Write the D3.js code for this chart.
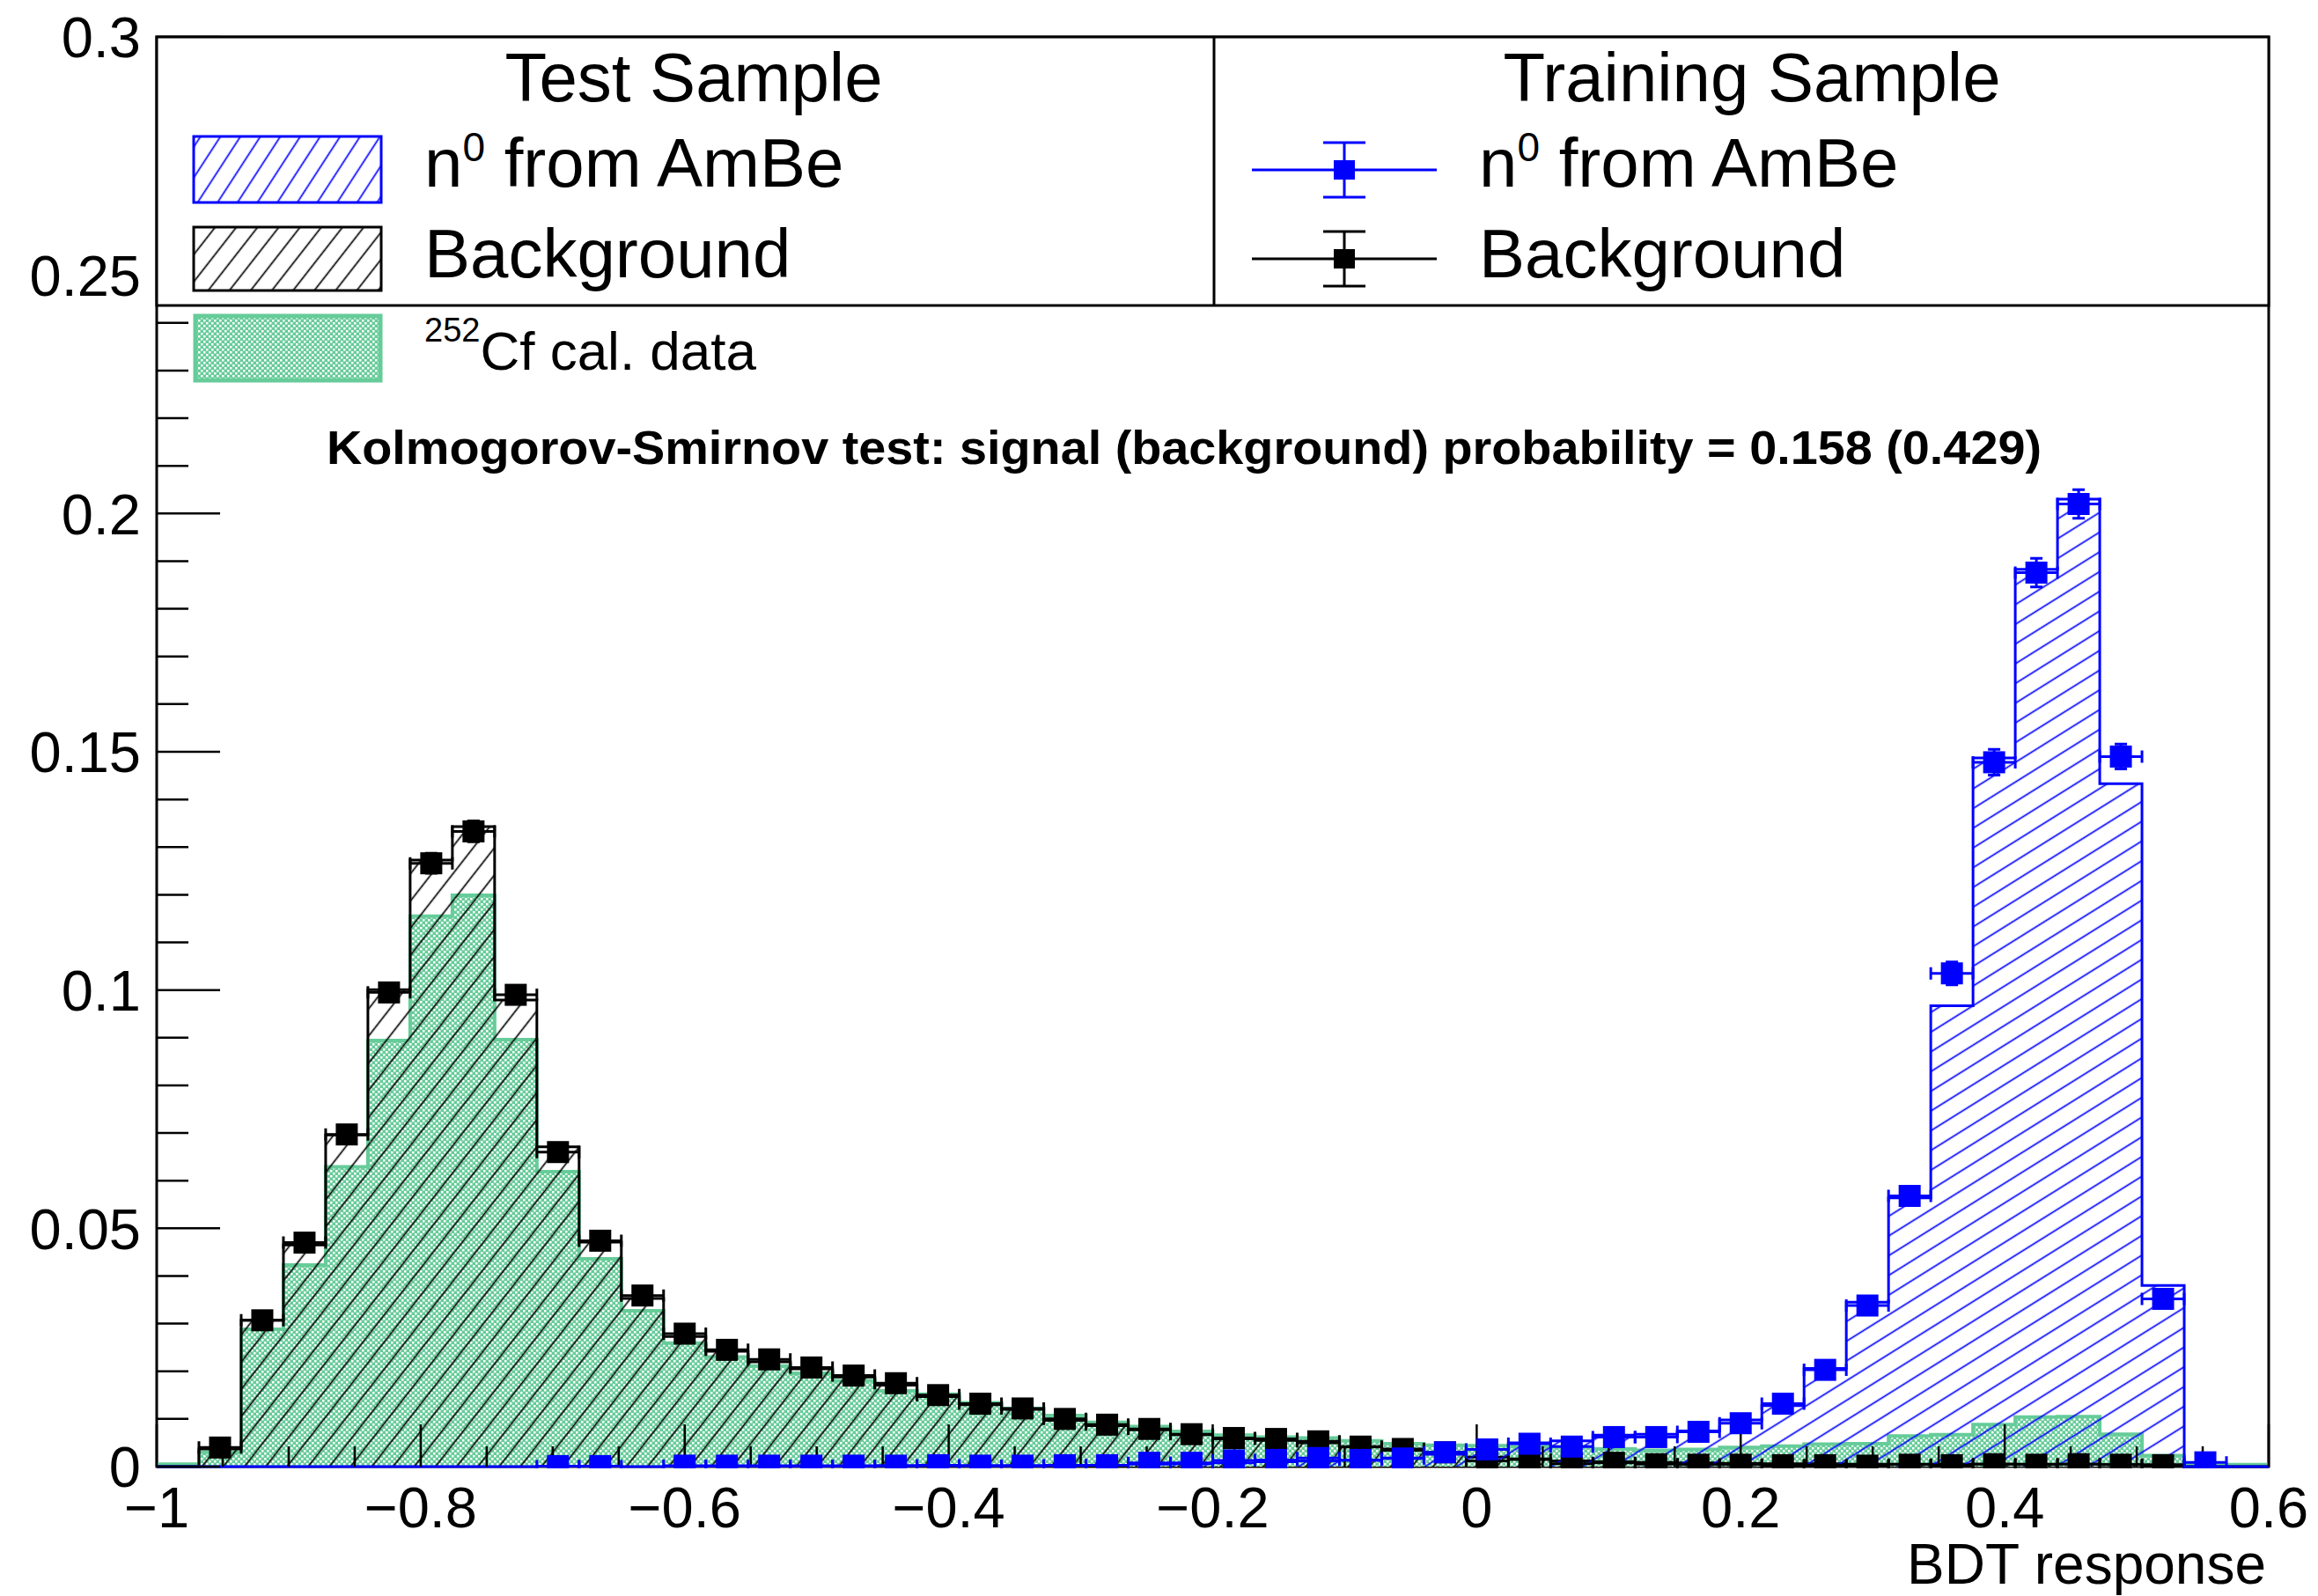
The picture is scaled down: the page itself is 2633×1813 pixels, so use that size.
<!DOCTYPE html>
<html>
<head>
<meta charset="utf-8">
<title>BDT response</title>
<script src="https://cdn.jsdelivr.net/npm/d3@7"></script>
<style>
  html, body { margin: 0; padding: 0; background: #ffffff; }
  svg { display: block; }
  text { font-family: "Liberation Sans", Arial, Helvetica, sans-serif; }
</style>
</head>
<body>
<svg id="chart" width="2633" height="1813"></svg>
<script>
// ---- binning of the BDT response axis ----
const xDomain = [-1, 0.6];
const yDomain = [0, 0.3];
const nBins = 50;

// ---- test sample histograms (normalised) ----
const sigTest = [
  0, 0, 0, 0, 0, 0, 0, 0, 0, 0.0001,
  0.0001, 0, 0.0001, 0.0001, 0.0001, 0.0001, 0.0001, 0.0002, 0.0002, 0.0002,
  0.0002, 0.0002, 0.0003, 0.0005, 0.0006, 0.0008, 0.0010, 0.0012, 0.0013, 0.0018,
  0.0026, 0.0036, 0.0050, 0.0054, 0.0066, 0.0068, 0.0075, 0.0098, 0.0128, 0.0206,
  0.0345, 0.0564, 0.0967, 0.1487, 0.1883, 0.2030, 0.1433, 0.0380, 0, 0
];
const bkgTest = [
  0, 0.0037, 0.0307, 0.0465, 0.0696, 0.1001, 0.1273, 0.1343, 0.0979, 0.0671,
  0.0471, 0.0353, 0.0273, 0.0242, 0.0220, 0.0205, 0.0188, 0.0171, 0.0147, 0.0130,
  0.0120, 0.0097, 0.0086, 0.0077, 0.0067, 0.0058, 0.0055, 0.0050, 0.0041, 0.0034,
  0.0027, 0.0020, 0.0016, 0.0012, 0.0010, 0.0009, 0.0008, 0.0007, 0.0006, 0.0006,
  0.0005, 0.0005, 0.0005, 0.0005, 0.0005, 0.0005, 0.0004, 0.0004, 0, 0
];
// ---- 252Cf calibration data ----
const cfData = [
  0.0005, 0.0030, 0.0288, 0.0423, 0.0629, 0.0894, 0.1155, 0.1199, 0.0896, 0.0619,
  0.0436, 0.0327, 0.0259, 0.0230, 0.0211, 0.0196, 0.0180, 0.0159, 0.0152, 0.0134,
  0.0122, 0.0107, 0.0093, 0.0084, 0.0074, 0.0066, 0.0062, 0.0060, 0.0054, 0.0048,
  0.0045, 0.0044, 0.0042, 0.0041, 0.0037, 0.0034, 0.0036, 0.0040, 0.0043, 0.0047,
  0.0048, 0.0064, 0.0067, 0.0088, 0.0104, 0.0105, 0.0068, 0.0023, 0.0005, 0.0004
];
// ---- training sample points (null = empty bin, not drawn) ----
const sigTrain = [
  null, null, null, null, null, null, null, null, null, 0.0001,
  0.0001, null, 0.0002, 0.0002, 0.0002, 0.0002, 0.0002, 0.0002, 0.0003, 0.0002,
  0.0002, 0.0003, 0.0003, 0.0008, 0.0008, 0.0013, 0.0014, 0.0018, 0.0014, 0.0017,
  0.0030, 0.0036, 0.0048, 0.0042, 0.0062, 0.0062, 0.0073, 0.0091, 0.0132, 0.0203,
  0.0338, 0.0568, 0.1035, 0.1478, 0.1876, 0.2020, 0.1490, 0.0352, 0.0009, null
];
const sigTrainErr = [
  0, 0, 0, 0, 0, 0, 0, 0, 0, 0.0001,
  0.0001, 0, 0.0001, 0.0001, 0.0001, 0.0001, 0.0001, 0.0001, 0.0002, 0.0001,
  0.0001, 0.0002, 0.0002, 0.0003, 0.0003, 0.0004, 0.0004, 0.0004, 0.0004, 0.0004,
  0.0005, 0.0006, 0.0007, 0.0006, 0.0008, 0.0008, 0.0008, 0.0009, 0.0011, 0.0014,
  0.0017, 0.0020, 0.0024, 0.0027, 0.0030, 0.0030, 0.0026, 0.0013, 0.0003, 0
];
const bkgTrain = [
  null, 0.0040, 0.0307, 0.0470, 0.0697, 0.0995, 0.1266, 0.1333, 0.0990, 0.0660,
  0.0474, 0.0359, 0.0279, 0.0245, 0.0225, 0.0208, 0.0191, 0.0175, 0.0150, 0.0132,
  0.0122, 0.0100, 0.0088, 0.0079, 0.0068, 0.0060, 0.0058, 0.0053, 0.0042, 0.0037,
  0.0030, 0.0012, 0.0015, 0.0006, 0.0008, 0.0005, 0.0004, 0.0004, 0.0003, 0.0003,
  0.0002, 0.0004, 0.0003, 0.0005, 0.0004, 0.0005, 0.0004, 0.0003, null, null
];
const bkgTrainErr = [
  0, 0.0004, 0.0011, 0.0013, 0.0016, 0.0019, 0.0021, 0.0022, 0.0019, 0.0015,
  0.0013, 0.0011, 0.0010, 0.0009, 0.0009, 0.0008, 0.0008, 0.0008, 0.0007, 0.0007,
  0.0006, 0.0006, 0.0005, 0.0005, 0.0005, 0.0005, 0.0004, 0.0004, 0.0004, 0.0003,
  0.0003, 0.0002, 0.0002, 0.0002, 0.0002, 0.0001, 0.0001, 0.0001, 0.0001, 0.0001,
  0.0001, 0.0001, 0.0001, 0.0001, 0.0001, 0.0001, 0.0001, 0.0001, 0, 0
];

// ---- axis ticks and labels ----
const xMajorTicks = [-1, -0.8, -0.6, -0.4, -0.2, 0, 0.2, 0.4, 0.6];
const xTickLabels = ["\u22121", "\u22120.8", "\u22120.6", "\u22120.4", "\u22120.2", "0", "0.2", "0.4", "0.6"];
const yMajorTicks = [0, 0.05, 0.1, 0.15, 0.2, 0.25, 0.3];
const yTickLabels = ["0", "0.05", "0.1", "0.15", "0.2", "0.25", "0.3"];
const xMinorStep = 0.05;
const yMinorStep = 0.01;

const xTitle = "BDT response";
const ksText = "Kolmogorov-Smirnov test: signal (background) probability = 0.158 (0.429)";

// ---- colours ----
const BLUE = "#0000ff";
const BLACK = "#000000";
const GREEN = "#66cc99";

// ---- layout ----
const frame = { left: 178, right: 2577, top: 42, bottom: 1666 };
const svg = d3.select("#chart");

const x = d3.scaleLinear().domain(xDomain).range([frame.left, frame.right]);
const y = d3.scaleLinear().domain(yDomain).range([frame.bottom, frame.top]);

const binW = (xDomain[1] - xDomain[0]) / nBins;
const edges = d3.range(nBins + 1).map(i => xDomain[0] + i * binW);
const centers = d3.range(nBins).map(i => xDomain[0] + (i + 0.5) * binW);

// ---- fill patterns ----
const defs = svg.append("defs");
function hatch(id, color, angleDeg, spacing, width) {
  const p = defs.append("pattern")
    .attr("id", id)
    .attr("patternUnits", "userSpaceOnUse")
    .attr("width", spacing).attr("height", spacing)
    .attr("patternTransform", `rotate(${90 - angleDeg})`);
  p.append("line")
    .attr("x1", spacing / 2).attr("y1", -1)
    .attr("x2", spacing / 2).attr("y2", spacing + 1)
    .attr("stroke", color).attr("stroke-width", width);
}
hatch("hatchBlue", BLUE, 32, 19, 1.7);
hatch("hatchBlueLeg", BLUE, 57, 19, 1.7);
hatch("hatchBlack", BLACK, 52, 19, 1.7);

// fine checkered fill for the calibration data
const dots = defs.append("pattern")
  .attr("id", "cfDots")
  .attr("patternUnits", "userSpaceOnUse")
  .attr("width", 6).attr("height", 6);
dots.append("rect").attr("width", 6).attr("height", 6).attr("fill", GREEN);
dots.append("rect").attr("x", 0).attr("y", 0).attr("width", 2.5).attr("height", 2.5).attr("fill", "#ffffff");
dots.append("rect").attr("x", 3).attr("y", 3).attr("width", 2.5).attr("height", 2.5).attr("fill", "#ffffff");

defs.append("clipPath").attr("id", "frameClip")
  .append("rect")
  .attr("x", frame.left).attr("y", frame.top - 2)
  .attr("width", frame.right - frame.left).attr("height", frame.bottom - frame.top + 4);

// ---- frame ----
svg.append("rect")
  .attr("x", frame.left).attr("y", frame.top)
  .attr("width", frame.right - frame.left).attr("height", frame.bottom - frame.top)
  .attr("fill", "#ffffff").attr("stroke", BLACK).attr("stroke-width", 3);

// ---- histograms as step outlines ----
const stepLine = d3.line()
  .x(d => x(d[0]))
  .y(d => y(d[1]))
  .curve(d3.curveStepAfter);

function histPoints(vals) {
  const pts = [[edges[0], 0]];
  vals.forEach((v, i) => pts.push([edges[i], v]));
  pts.push([edges[nBins], vals[nBins - 1]]);
  pts.push([edges[nBins], 0]);
  return pts;
}

const plot = svg.append("g").attr("clip-path", "url(#frameClip)");

function drawHist(vals, fill, stroke, sw) {
  const pts = histPoints(vals);
  plot.append("path")
    .attr("d", stepLine(pts) + "Z")
    .attr("fill", fill).attr("stroke", "none");
  plot.append("path")
    .attr("d", stepLine(pts))
    .attr("fill", "none").attr("stroke", stroke)
    .attr("stroke-width", sw).attr("stroke-linejoin", "miter");
}

drawHist(cfData, "url(#cfDots)", GREEN, 4);
drawHist(bkgTest, "url(#hatchBlack)", BLACK, 3);
drawHist(sigTest, "url(#hatchBlue)", BLUE, 3);

// ---- axis ticks (drawn over the histograms) ----
const ticks = svg.append("g").attr("stroke", BLACK).attr("stroke-width", 2.5);
const nxMinor = Math.round((xDomain[1] - xDomain[0]) / xMinorStep);
d3.range(nxMinor + 1).forEach(i => {
  const v = xDomain[0] + i * xMinorStep;
  const major = xMajorTicks.some(t => Math.abs(t - v) < 1e-9);
  ticks.append("line")
    .attr("x1", x(v)).attr("x2", x(v))
    .attr("y1", frame.bottom).attr("y2", frame.bottom - (major ? 48 : 23));
});
const nyMinor = Math.round((yDomain[1] - yDomain[0]) / yMinorStep);
d3.range(nyMinor + 1).forEach(i => {
  const v = yDomain[0] + i * yMinorStep;
  const major = yMajorTicks.some(t => Math.abs(t - v) < 1e-9);
  ticks.append("line")
    .attr("x1", frame.left).attr("x2", frame.left + (major ? 72 : 36))
    .attr("y1", y(v)).attr("y2", y(v));
});

// ---- tick labels ----
svg.append("g").selectAll("text")
  .data(xMajorTicks)
  .join("text")
  .attr("x", d => x(d))
  .attr("y", 1735)
  .attr("text-anchor", "middle")
  .attr("font-size", 65)
  .text((d, i) => xTickLabels[i]);

svg.append("g").selectAll("text")
  .data(yMajorTicks)
  .join("text")
  .attr("x", 160)
  .attr("y", d => y(d))
  .attr("dy", "0.36em")
  .attr("text-anchor", "end")
  .attr("font-size", 65)
  .text((d, i) => yTickLabels[i]);

svg.append("text")
  .attr("x", 2574).attr("y", 1799)
  .attr("text-anchor", "end")
  .attr("font-size", 64)
  .text(xTitle);

// ---- training points with error bars ----
function drawPoints(vals, errs, color) {
  const g = svg.append("g").attr("clip-path", "url(#frameClip)");
  const data = vals.map((v, i) => ({ v, e: errs[i], i })).filter(d => d.v !== null);
  const cap = 7;
  data.forEach(d => {
    const cx = x(centers[d.i]);
    const cy = y(d.v);
    const xl = x(edges[d.i]), xr = x(edges[d.i + 1]);
    const yt = y(d.v + d.e), yb = y(d.v - d.e);
    const path = d3.path();
    path.moveTo(xl, cy); path.lineTo(xr, cy);
    path.moveTo(xl, cy - cap); path.lineTo(xl, cy + cap);
    path.moveTo(xr, cy - cap); path.lineTo(xr, cy + cap);
    path.moveTo(cx, yt); path.lineTo(cx, yb);
    path.moveTo(cx - cap, yt); path.lineTo(cx + cap, yt);
    path.moveTo(cx - cap, yb); path.lineTo(cx + cap, yb);
    g.append("path").attr("d", path.toString())
      .attr("fill", "none").attr("stroke", color).attr("stroke-width", 3);
  });
  g.selectAll("rect.marker")
    .data(data)
    .join("rect")
    .attr("class", "marker")
    .attr("x", d => x(centers[d.i]) - 12.5)
    .attr("y", d => y(d.v) - 12.5)
    .attr("width", 25).attr("height", 25)
    .attr("fill", color);
}
drawPoints(bkgTrain, bkgTrainErr, BLACK);
drawPoints(sigTrain, sigTrainErr, BLUE);

// ---- legend ----
const leg = svg.append("g");
const legTop = frame.top, legBottom = 347, legDiv = 1379;
leg.append("rect")
  .attr("x", frame.left).attr("y", legTop)
  .attr("width", frame.right - frame.left).attr("height", legBottom - legTop)
  .attr("fill", "#ffffff").attr("stroke", BLACK).attr("stroke-width", 3);
leg.append("line")
  .attr("x1", legDiv).attr("x2", legDiv)
  .attr("y1", legTop).attr("y2", legBottom)
  .attr("stroke", BLACK).attr("stroke-width", 3);

leg.append("text").attr("x", 788).attr("y", 115)
  .attr("text-anchor", "middle").attr("font-size", 78).text("Test Sample");
leg.append("text").attr("x", 1990).attr("y", 115)
  .attr("text-anchor", "middle").attr("font-size", 78).text("Training Sample");

function neutronLabel(xPos, yPos) {
  const t = leg.append("text").attr("x", xPos).attr("y", yPos).attr("font-size", 78);
  t.append("tspan").text("n");
  t.append("tspan").attr("font-size", 46).attr("dy", -29).text("0");
  t.append("tspan").attr("dy", 29).text(" from AmBe");
}

// test sample boxes
leg.append("rect").attr("x", 220).attr("y", 155).attr("width", 213).attr("height", 75)
  .attr("fill", "url(#hatchBlueLeg)").attr("stroke", BLUE).attr("stroke-width", 3);
neutronLabel(482, 212);
leg.append("rect").attr("x", 220).attr("y", 258).attr("width", 213).attr("height", 72)
  .attr("fill", "url(#hatchBlack)").attr("stroke", BLACK).attr("stroke-width", 3);
leg.append("text").attr("x", 482).attr("y", 315).attr("font-size", 78).text("Background");

// training sample markers
function legMarker(cy, color) {
  const cx = 1527;
  const path = d3.path();
  path.moveTo(1422, cy); path.lineTo(1632, cy);
  path.moveTo(cx, cy - 31); path.lineTo(cx, cy + 31);
  path.moveTo(cx - 24, cy - 31); path.lineTo(cx + 24, cy - 31);
  path.moveTo(cx - 24, cy + 31); path.lineTo(cx + 24, cy + 31);
  leg.append("path").attr("d", path.toString())
    .attr("fill", "none").attr("stroke", color).attr("stroke-width", 3);
  leg.append("rect").attr("x", cx - 12).attr("y", cy - 11)
    .attr("width", 24).attr("height", 22).attr("fill", color);
}
legMarker(193, BLUE);
neutronLabel(1680, 212);
legMarker(294, BLACK);
leg.append("text").attr("x", 1680).attr("y", 315).attr("font-size", 78).text("Background");

// calibration data entry (below the boxed legend)
svg.append("rect").attr("x", 222).attr("y", 359).attr("width", 210).attr("height", 73)
  .attr("fill", "url(#cfDots)").attr("stroke", GREEN).attr("stroke-width", 5);
const cfLabel = svg.append("text").attr("x", 482).attr("y", 420).attr("font-size", 62);
cfLabel.append("tspan").attr("font-size", 38).attr("dy", -32).text("252");
cfLabel.append("tspan").attr("dy", 32).text("Cf cal. data");

// ---- KS test annotation ----
svg.append("text")
  .attr("x", 371).attr("y", 527)
  .attr("font-size", 53).attr("font-weight", "bold")
  .attr("textLength", 1948).attr("lengthAdjust", "spacingAndGlyphs")
  .text(ksText);
</script>
</body>
</html>
